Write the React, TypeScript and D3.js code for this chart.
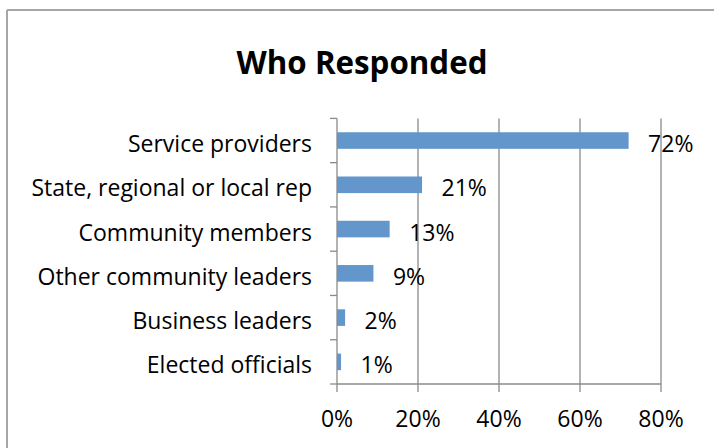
import React from "react";
import * as d3 from "d3";

const categories = [
  "Service providers",
  "State, regional or local rep",
  "Community members",
  "Other community leaders",
  "Business leaders",
  "Elected officials",
];
const values = [72, 21, 13, 9, 2, 1];
const xTicks = [0, 20, 40, 60, 80];
const title = "Who Responded";

const W = 714;
const H = 448;
const FONT = "'Open Sans', sans-serif";
const FS = 23;

export default function App() {
  const left = 337;
  const right = 661;
  const top = 118.4;
  const bottom = 384;
  const x = d3.scaleLinear().domain([0, 80]).range([left, right]);
  const y = d3
    .scaleBand<string>()
    .domain(categories)
    .range([top, bottom])
    .paddingInner(0.625)
    .paddingOuter(0.3125);
  const step = y.step();
  const boundaries = d3.range(categories.length + 1).map((i) => top + i * step);
  const axisColor = "#8a8a8a";

  return (
    <svg
      width={W}
      height={H}
      style={{ position: "absolute", left: 0, top: 0, background: "#fff" }}
      fontFamily={FONT}
    >
      <rect x={0} y={0} width={W} height={H} fill="#fff" />
      {/* outer border */}
      <line x1={7} y1={10} x2={W} y2={10} stroke="#a6a6a6" strokeWidth={2} />
      <line x1={7} y1={10} x2={7} y2={H} stroke="#a6a6a6" strokeWidth={2} />

      <text x={362} y={74} textAnchor="middle" fontSize={31.3} fontWeight="bold" fill="#000">
        {title}
      </text>

      {/* gridlines */}
      {xTicks.slice(1).map((t) => (
        <line key={"g" + t} x1={x(t)} x2={x(t)} y1={top} y2={bottom} stroke={axisColor} strokeWidth={1.3} />
      ))}

      {/* bars */}
      {categories.map((c, i) => (
        <rect
          key={c}
          x={x(0)}
          y={y(c)!}
          width={x(values[i]) - x(0)}
          height={y.bandwidth()}
          fill="#6397cc"
        />
      ))}

      {/* y axis */}
      <line x1={left} x2={left} y1={top} y2={bottom} stroke={axisColor} strokeWidth={1.3} />
      {boundaries.map((b, i) => (
        <line key={"yt" + i} x1={left - 7} x2={left} y1={b} y2={b} stroke={axisColor} strokeWidth={1.3} />
      ))}
      {/* x axis */}
      <line x1={left} x2={right} y1={bottom} y2={bottom} stroke={axisColor} strokeWidth={1.3} />
      {xTicks.map((t) => (
        <line key={"xt" + t} x1={x(t)} x2={x(t)} y1={bottom} y2={bottom + 8} stroke={axisColor} strokeWidth={1.3} />
      ))}

      {/* category labels */}
      {categories.map((c) => (
        <text
          key={"l" + c}
          x={312}
          y={y(c)! + y.bandwidth() / 2 + 11.5}
          textAnchor="end"
          fontSize={FS}
          fill="#000"
        >
          {c}
        </text>
      ))}

      {/* value labels */}
      {categories.map((c, i) => (
        <text
          key={"v" + c}
          x={x(values[i]) + 19.5}
          y={y(c)! + y.bandwidth() / 2 + 11.5}
          textAnchor="start"
          fontSize={FS}
          fill="#000"
        >
          {values[i] + "%"}
        </text>
      ))}

      {/* x tick labels */}
      {xTicks.map((t) => (
        <text key={"xl" + t} x={x(t)} y={427} textAnchor="middle" fontSize={FS} fill="#000">
          {t + "%"}
        </text>
      ))}
    </svg>
  );
}
